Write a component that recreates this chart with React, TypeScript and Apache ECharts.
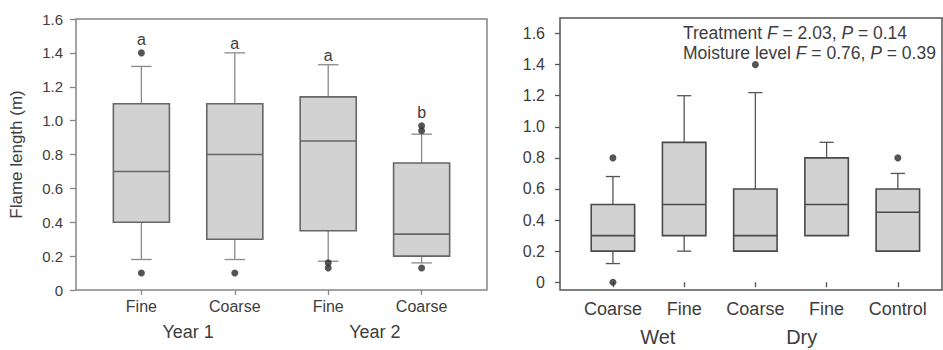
import React, { useEffect, useRef } from "react";
import * as echarts from "echarts";

// ---------- data ----------
const yearCategories = ["Fine", "Coarse", "Fine", "Coarse"];
const yearGroups = ["Year 1", "Year 2"];
const yearGroupAt = [1.5, 3.5];
// [lower whisker, Q1, median, Q3, upper whisker]
const yearBoxes = [
  [0.18, 0.4, 0.7, 1.1, 1.32],
  [0.18, 0.3, 0.8, 1.1, 1.4],
  [0.17, 0.35, 0.88, 1.14, 1.33],
  [0.16, 0.2, 0.33, 0.75, 0.92],
];
const yearOutliers = [[1.4, 0.1], [0.1], [0.16, 0.13], [0.97, 0.94, 0.13]];
const yearLetters = ["a", "a", "a", "b"];

const moistCategories = ["Coarse", "Fine", "Coarse", "Fine", "Control"];
const moistGroups = ["Wet", "Dry"];
const moistGroupAt = [1.63, 3.65];
const moistBoxes = [
  [0.12, 0.2, 0.3, 0.5, 0.68],
  [0.2, 0.3, 0.5, 0.9, 1.2],
  [0.2, 0.2, 0.3, 0.6, 1.22],
  [0.3, 0.3, 0.5, 0.8, 0.9],
  [0.2, 0.2, 0.45, 0.6, 0.7],
];
const moistOutliers = [[0.8, 0], [], [1.4], [], [0.8]];

const yTicks = [0, 0.2, 0.4, 0.6, 0.8, 1.0, 1.2, 1.4, 1.6];
const statLines = [
  "Treatment {i|F} = 2.03, {i|P} = 0.14",
  "Moisture level {i|F} = 0.76, {i|P} = 0.39",
];

// ---------- helpers ----------
const FONT = "Liberation Sans, Arial, Helvetica, sans-serif";
const TEXT = "#3d3d3d";

function boxRender(halfW: number, capHalf: number, frame: string, whisker: string, letters?: string[], outliers?: number[][]) {
  return (params: any, api: any) => {
    const x = api.value(0);
    const lo = api.value(1), q1 = api.value(2), med = api.value(3), q3 = api.value(4), hi = api.value(5);
    const [xl, yq3] = api.coord([x - halfW, q3]);
    const [xr, yq1] = api.coord([x + halfW, q1]);
    const [xc, ymed] = api.coord([x, med]);
    const yhi = api.coord([x, hi])[1];
    const ylo = api.coord([x, lo])[1];
    const cap = api.size([capHalf * 2, 0])[0] / 2;
    const children: any[] = [];
    const wStyle = { stroke: whisker, lineWidth: 1.3, fill: null };
    if (hi > q3) {
      children.push({ type: "line", shape: { x1: xc, y1: yhi, x2: xc, y2: yq3 }, style: wStyle });
      children.push({ type: "line", shape: { x1: xc - cap, y1: yhi, x2: xc + cap, y2: yhi }, style: wStyle });
    }
    if (lo < q1) {
      children.push({ type: "line", shape: { x1: xc, y1: yq1, x2: xc, y2: ylo }, style: wStyle });
      children.push({ type: "line", shape: { x1: xc - cap, y1: ylo, x2: xc + cap, y2: ylo }, style: wStyle });
    }
    children.push({
      type: "rect",
      shape: { x: xl, y: yq3, width: xr - xl, height: yq1 - yq3 },
      style: { fill: "#d2d2d2", stroke: frame, lineWidth: 1.6 },
    });
    children.push({ type: "line", shape: { x1: xl, y1: ymed, x2: xr, y2: ymed }, style: { stroke: frame, lineWidth: 1.6 } });
    if (letters) {
      const outs = outliers ? outliers[params.dataIndex] : [];
      const maxOut = outs.length ? Math.max(...outs) : -Infinity;
      let topY = yhi - 1;
      if (maxOut > hi) topY = api.coord([x, maxOut])[1] - 5;
      children.push({
        type: "text",
        style: {
          text: letters[params.dataIndex],
          x: xc,
          y: topY,
          align: "center",
          verticalAlign: "bottom",
          fontSize: 16,
          fontFamily: FONT,
          fill: TEXT,
        },
      });
    }
    return { type: "group", children };
  };
}

function outlierPoints(outs: number[][]) {
  const pts: number[][] = [];
  outs.forEach((arr, i) => arr.forEach((v) => pts.push([i + 1, v])));
  return pts;
}

export default function App() {
  const ref = useRef<HTMLDivElement>(null);
  useEffect(() => {
    if (!ref.current) return;
    const chart = echarts.init(ref.current, undefined, { renderer: "svg" });
    const yFmt = (v: number) => (Math.abs(v) < 1e-9 ? "0" : v.toFixed(1));
    const catIdx = [1, 2, 3, 4];
    const catIdx5 = [1, 2, 3, 4, 5];
    chart.setOption({
      animation: false,
      backgroundColor: "#fff",
      textStyle: { fontFamily: FONT },
      grid: [
        { left: 76, top: 19, width: 411, height: 271, show: true, borderColor: "#858585", borderWidth: 1.5, backgroundColor: "transparent" },
        { left: 560, top: 18, width: 382, height: 272, show: true, borderColor: "#555", borderWidth: 1.5, backgroundColor: "transparent" },
      ],
      xAxis: [
        {
          gridIndex: 0, type: "value", min: 0.3, max: 4.7,
          axisLine: { show: false }, splitLine: { show: false },
          axisTick: { show: true, length: 5, customValues: catIdx, lineStyle: { color: "#858585", width: 1.3 } },
          axisLabel: { customValues: catIdx, margin: 8, fontSize: 16, color: TEXT, fontFamily: FONT, formatter: (v: number) => yearCategories[Math.round(v) - 1] },
        },
        {
          gridIndex: 0, type: "value", min: 0.3, max: 4.7, position: "bottom",
          axisLine: { show: false }, splitLine: { show: false }, axisTick: { show: false },
          axisLabel: { customValues: yearGroupAt, margin: 33, fontSize: 18, color: TEXT, fontFamily: FONT, formatter: (v: number) => yearGroups[yearGroupAt.indexOf(v)] },
        },
        {
          gridIndex: 1, type: "value", min: 0.257, max: 5.62,
          axisLine: { show: false }, splitLine: { show: false },
          axisTick: { show: true, length: 5, customValues: catIdx5, lineStyle: { color: "#555", width: 1.3 } },
          axisLabel: { customValues: catIdx5, margin: 10, fontSize: 18, color: TEXT, fontFamily: FONT, formatter: (v: number) => moistCategories[Math.round(v) - 1] },
        },
        {
          gridIndex: 1, type: "value", min: 0.257, max: 5.62, position: "bottom",
          axisLine: { show: false }, splitLine: { show: false }, axisTick: { show: false },
          axisLabel: { customValues: moistGroupAt, margin: 37, fontSize: 20, color: TEXT, fontFamily: FONT, formatter: (v: number) => moistGroups[moistGroupAt.indexOf(v)] },
        },
      ],
      yAxis: [
        {
          gridIndex: 0, type: "value", min: 0, max: 1.6, interval: 0.2,
          name: "Flame length (m)", nameLocation: "middle", nameGap: 51,
          nameTextStyle: { fontSize: 17, color: TEXT, fontFamily: FONT },
          axisLine: { show: false }, splitLine: { show: false },
          axisTick: { show: true, length: 6, lineStyle: { color: "#858585", width: 1.3 } },
          axisLabel: { margin: 13, fontSize: 15, color: TEXT, fontFamily: FONT, formatter: yFmt },
        },
        {
          gridIndex: 1, type: "value", min: -0.05, max: 1.7,
          axisLine: { show: false }, splitLine: { show: false },
          axisTick: { show: true, length: 5, customValues: yTicks, lineStyle: { color: "#555", width: 1.3 } },
          axisLabel: { customValues: yTicks, margin: 15, fontSize: 16, color: TEXT, fontFamily: FONT, formatter: yFmt },
        },
      ],
      series: [
        {
          type: "custom", xAxisIndex: 0, yAxisIndex: 0,
          renderItem: boxRender(0.3, 0.11, "#666", "#8a8a8a", yearLetters, yearOutliers),
          encode: { x: 0, y: [1, 2, 3, 4, 5] },
          data: yearBoxes.map((b, i) => [i + 1, ...b]),
          z: 2,
        },
        {
          type: "scatter", xAxisIndex: 0, yAxisIndex: 0, symbol: "circle", symbolSize: 7,
          itemStyle: { color: "#2a2a2a" }, data: outlierPoints(yearOutliers), z: 3,
        },
        {
          type: "custom", xAxisIndex: 2, yAxisIndex: 1,
          renderItem: boxRender(0.305, 0.1, "#4a4a4a", "#555"),
          encode: { x: 0, y: [1, 2, 3, 4, 5] },
          data: moistBoxes.map((b, i) => [i + 1, ...b]),
          z: 2,
        },
        {
          type: "scatter", xAxisIndex: 2, yAxisIndex: 1, symbol: "circle", symbolSize: 7,
          itemStyle: { color: "#2a2a2a" }, data: outlierPoints(moistOutliers), z: 3,
        },
      ],
      graphic: [
        {
          type: "text", left: 683, top: 23, z: 10,
          style: {
            text: statLines.join("\n"),
            fontSize: 17.5, fontFamily: FONT, fill: TEXT, lineHeight: 20,
            rich: { i: { fontStyle: "italic", fontSize: 17.5, fontFamily: FONT, fill: TEXT, lineHeight: 20 } },
          },
        },
      ],
    });
    return () => chart.dispose();
  }, []);
  return <div ref={ref} style={{ position: "fixed", left: 0, top: 0, width: 943, height: 350 }} />;
}
